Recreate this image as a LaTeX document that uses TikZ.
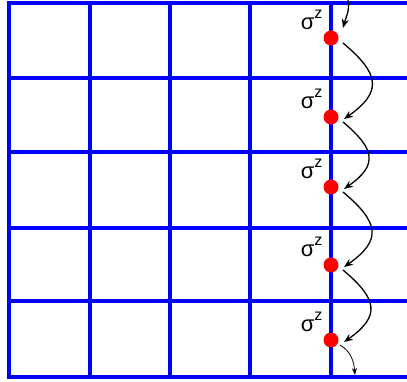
\documentclass[tikz,border=0pt]{standalone}
\usepackage{fontspec}
\setmainfont{Liberation Sans}
\usetikzlibrary{arrows.meta, positioning}
\begin{document}
\begin{tikzpicture}[x=1pt, y=1pt, line cap=rect,
  gridline/.style={blue, line width=4pt},
  spin/.style={circle, fill=red, inner sep=0pt, minimum size=15pt},
  hop/.style={black, line width=1.3pt, line cap=round, -{Stealth[length=9pt, width=7pt]}},
  lasthop/.style={black, line width=0.8pt, line cap=round, -{Stealth[length=7pt, width=5pt]}},
  lbl/.style={font=\fontsize{22}{22}\selectfont, inner sep=0pt}]
  \useasboundingbox (0,0) rectangle (407,381);
  % the lattice
  \foreach \y in {4,80,153,229,303,378} { \draw[gridline] (9,\y) -- (407,\y); }
  \foreach \x in {9,90,170,250,331} { \draw[gridline] (\x,4) -- (\x,378); }
  % the spins on one column, with their labels
  \foreach \i/\y in {1/343,2/264,3/194,4/116,5/41} {
    \node[spin] (s\i) at (331,\y) {};
    \node[lbl, anchor=south east, above left=3pt and 3pt of s\i] (l\i)
      {σ\raisebox{11pt}{\fontsize{16}{16}\selectfont z}};
  }
  % the string of hops down the column
  \coordinate (in) at (348,381);
  \coordinate (out) at (355,6);
  \draw[hop] (in) to[out=-80, in=75] ([shift={(12,10)}]s1.center);
  \foreach \i/\j in {1/2,2/3,3/4,4/5} {
    \draw[hop] ([shift={(12,-5)}]s\i.center) to[out=-40, in=35, looseness=1.6] ([shift={(13,-2)}]s\j.center);
  }
  \draw[lasthop] ([shift={(9,-5)}]s5.center) to[out=-30, in=95] (out);
\end{tikzpicture}
\end{document}
